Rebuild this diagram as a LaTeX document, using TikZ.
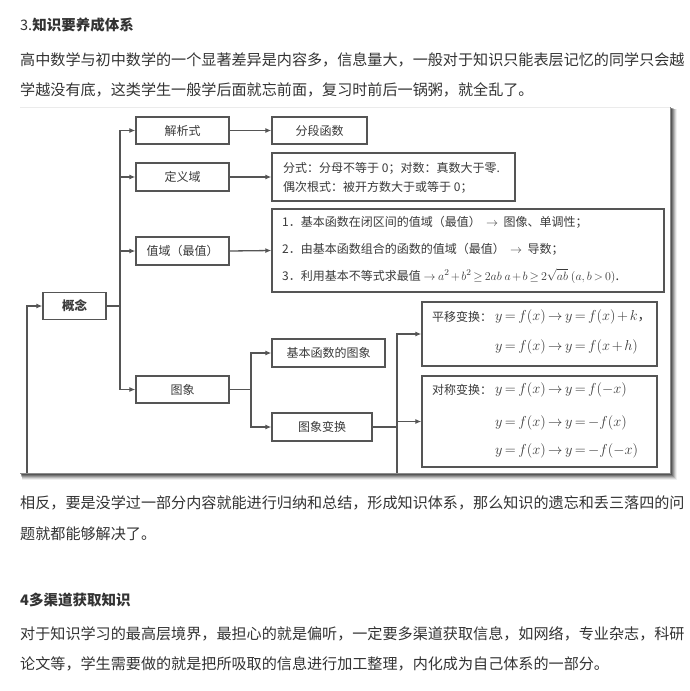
\documentclass[tikz,border=0pt]{standalone}
\usepackage[no-math]{fontspec}
\setmainfont{Noto Sans CJK SC}
\usetikzlibrary{arrows.meta}
\definecolor{txt}{HTML}{333333}
\definecolor{dtxt}{HTML}{3A3A3A}
\definecolor{bord}{HTML}{555555}
\newcommand{\tightmath}{\thickmuskip=3mu plus 1mu\medmuskip=2mu plus 1mu}
\tikzset{
  para/.style={anchor=west, inner sep=0pt, text=txt, font=\fontsize{15.1}{16}\selectfont},
  head/.style={anchor=west, inner sep=0pt, text=txt, font=\fontsize{14.5}{16}\selectfont},
  box/.style={draw=bord, line width=1.3pt, fill=white, inner sep=0pt, text=dtxt,
    font=\fontsize{12}{14}\selectfont},
  dtext/.style={anchor=west, inner sep=0pt, text=dtxt, font=\fontsize{12}{14}\selectfont},
  mtext/.style={anchor=west, inner sep=0pt, text=dtxt, font=\fontsize{13.5}{16}\selectfont\tightmath},
  conn/.style={draw=bord, line width=1.3pt},
  arr/.style={conn, -{Latex[length=6pt,width=5pt]}},
}
\begin{document}
\begin{tikzpicture}[x=1pt,y=-1pt]
\useasboundingbox (0,0) rectangle (690,691);
\fill[white] (0,0) rectangle (690,691);

% texts above
\node[head] (h3) at (20,25) {3.\textbf{知识要养成体系}};
\node[para] (p1) at (20,60) {高中数学与初中数学的一个显著差异是内容多，信息量大，一般对于知识只能表层记忆的同学只会越};
\node[para] (p2) at (20,90) {学越没有底，这类学生一般学后面就忘前面，复习时前后一锅粥，就全乱了。};

% diagram frame with shadow
\foreach \o/\a in {7/0.06,6/0.10,5/0.14,4/0.18,3/0.22,2/0.26,1/0.30}{
  \fill[black,opacity=\a] (20+\o*0.3,107+\o*0.3) rectangle (670+\o,473+\o);
}
\fill[white] (20,107) rectangle (670,473);
\draw[black!8,line width=0.6pt] (20,107) -- (670,107);
\draw[black!45,line width=1pt] (670,107) -- (670,473) -- (20,473);

% nodes
\node[box, minimum width=63pt, minimum height=27pt, font=\fontsize{12.5}{14}\selectfont\bfseries] (gn) at (74.5,306) {概念};
\node[box, minimum width=93pt, minimum height=27pt] (jx) at (182.5,130.5) {解析式};
\node[box, minimum width=95pt, minimum height=27pt] (fd) at (319.5,130.5) {分段函数};
\node[box, minimum width=93pt, minimum height=28pt] (dy) at (182.5,177) {定义域};
\node[box, minimum width=243pt, minimum height=48pt] (dyd) at (393.5,177) {};
\node[dtext] (dyd1) at (283,168) {分式：分母不等于 0；对数：真数大于零.};
\node[dtext] (dyd2) at (283,187) {偶次根式：被开方数大于或等于 0；};
\node[box, minimum width=93pt, minimum height=28pt] (zy) at (182.5,251) {值域（最值）};
\node[box, minimum width=392pt, minimum height=83pt] (zyd) at (468,250.5) {};
\node[dtext] (zyd1) at (282,222) {1．基本函数在闭区间的值域（最值）\ \ $\rightarrow$\ \ 图像、单调性；};
\node[dtext] (zyd2) at (282,249) {2．由基本函数组合的函数的值域（最值）\ \ $\rightarrow$\ \ 导数；};
\node[dtext] (zyd3) at (282,276) {3．利用基本不等式求最值\ $\rightarrow$\ {\fontsize{13}{16}\selectfont\tightmath$a^2+b^2\ge 2ab\ a+b\ge 2\sqrt{ab}\ (a,b>0)$.}};
\node[box, minimum width=93pt, minimum height=27pt] (tx) at (182.5,389.5) {图象};
\node[box, minimum width=113pt, minimum height=28pt] (jb) at (328.5,353) {基本函数的图象};
\node[box, minimum width=100pt, minimum height=28pt] (tb) at (322,427) {图象变换};
\node[box, minimum width=235pt, minimum height=64pt] (py) at (539.5,334) {};
\node[dtext] (py0) at (432,317) {平移变换：};
\node[mtext] (py1) at (495,317) {$y=f(x)\rightarrow y=f(x)+k$，};
\node[mtext] (py2) at (495,347) {$y=f(x)\rightarrow y=f(x+h)$};
\node[box, minimum width=235pt, minimum height=91pt] (dc) at (539.5,421.5) {};
\node[dtext] (dc0) at (432,390) {对称变换：};
\node[mtext] (dc1) at (495,390) {$y=f(x)\rightarrow y=f(-x)$};
\node[mtext] (dc2) at (495,423) {$y=f(x)\rightarrow y=-f(x)$};
\node[mtext] (dc3) at (495,451) {$y=f(x)\rightarrow y=-f(-x)$};

% connectors
\coordinate (fb) at (27,473);
\draw[arr] (fb) |- (gn.west);
\coordinate (trk) at (120,306);
\draw[conn] (gn.east) -- (trk);
\draw[arr] (trk) |- (jx.west);
\draw[arr] (trk) |- (dy.west);
\draw[arr] (trk) |- (zy.west);
\draw[arr] (trk) |- (tx.west);
\draw[arr] (jx.east) -- (fd.west);
\draw[arr] (dy.east) -- (dyd.west);
\draw[arr] (zy.east) -- (zyd.west);
\coordinate (br) at (251,389.5);
\draw[conn] (tx.east) -- (br);
\draw[arr] (br) |- (jb.west);
\draw[arr] (br) |- (tb.west);
\coordinate (br2) at (397,427);
\coordinate (br2b) at (397,473);
\draw[conn] (tb.east) -- (br2);
\draw[arr] (br2) |- (py.west);
\draw[arr] (br2) |- (dc.west);
\draw[conn] (br2) -- (br2b);

% texts below
\node[para] (p3) at (20,503) {相反，要是没学过一部分内容就能进行归纳和总结，形成知识体系，那么知识的遗忘和丢三落四的问};
\node[para] (p4) at (20,534) {题就都能够解决了。};
\node[head] (h4) at (20,600) {\textbf{4多渠道获取知识}};
\node[para] (p5) at (20,634) {对于知识学习的最高层境界，最担心的就是偏听，一定要多渠道获取信息，如网络，专业杂志，科研};
\node[para] (p6) at (20,664) {论文等，学生需要做的就是把所吸取的信息进行加工整理，内化成为自己体系的一部分。};
\end{tikzpicture}
\end{document}
